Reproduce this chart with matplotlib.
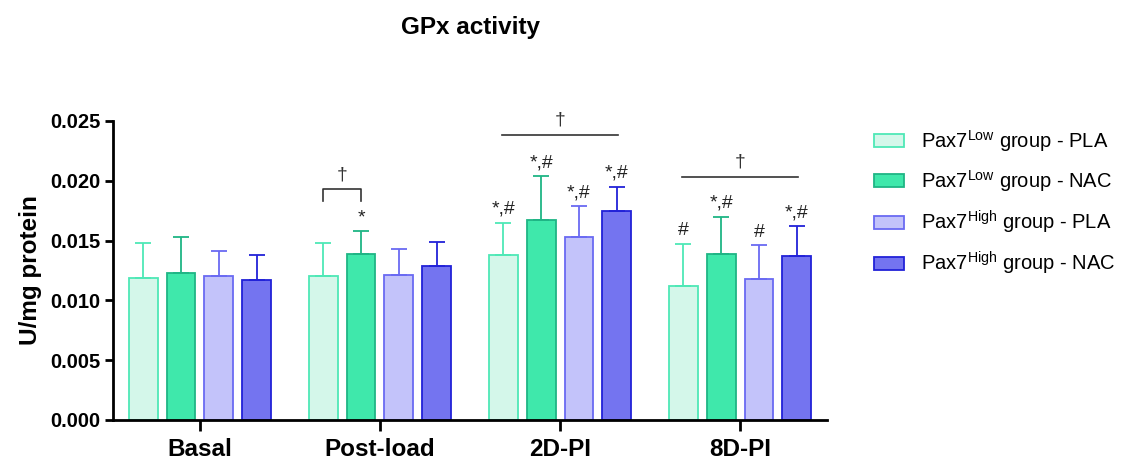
import matplotlib
matplotlib.use("Agg")
import matplotlib.pyplot as plt
from matplotlib.patches import Patch
import numpy as np

plt.rcParams['font.family'] = ['Liberation Sans', 'DejaVu Sans']

categories = ["Basal", "Post-load", "2D-PI", "8D-PI"]
series = ["Pax7$^{\\mathregular{Low}}$ group - PLA", "Pax7$^{\\mathregular{Low}}$ group - NAC",
          "Pax7$^{\\mathregular{High}}$ group - PLA", "Pax7$^{\\mathregular{High}}$ group - NAC"]
low_pla = [0.0119, 0.0120, 0.0138, 0.0112]
low_nac = [0.0123, 0.0139, 0.0167, 0.0139]
high_pla = [0.0120, 0.0121, 0.0153, 0.0118]
high_nac = [0.0117, 0.0129, 0.0175, 0.0137]
low_pla_sd = [0.0029, 0.0028, 0.0027, 0.0035]
low_nac_sd = [0.0030, 0.0019, 0.0037, 0.0031]
high_pla_sd = [0.0021, 0.0022, 0.0026, 0.0028]
high_nac_sd = [0.0021, 0.0020, 0.0020, 0.0025]
annotations = [["", "", "", ""],
               ["", "*", "", ""],
               ["*,#", "*,#", "*,#", "*,#"],
               ["#", "*,#", "#", "*,#"]]

values = [low_pla, low_nac, high_pla, high_nac]
sds = [low_pla_sd, low_nac_sd, high_pla_sd, high_nac_sd]
faces = ["#d4f7ea", "#3fe8ab", "#c3c3fa", "#7474f0"]
edges = ["#4ee8b6", "#1fb585", "#6a6af2", "#2222d8"]

fig = plt.figure(figsize=(11.33, 4.65), dpi=100)
ax = fig.add_axes([0.0997, 0.0968, 0.6303, 0.643])

x = np.arange(len(categories))
offs = [-0.315, -0.105, 0.105, 0.315]
w = 0.16
for i in range(4):
    xs = x + offs[i]
    ax.bar(xs, values[i], width=w, color=faces[i], edgecolor=edges[i], linewidth=1.3, zorder=2)
    ax.errorbar(xs, values[i], yerr=[np.zeros(4), sds[i]], fmt='none', ecolor=edges[i],
                elinewidth=1.3, capsize=6, capthick=1.3, zorder=3)
    for j in range(4):
        t = annotations[j][i]
        if t:
            ax.text(xs[j], values[i][j] + sds[i][j] + 0.0004, t, ha='center', va='bottom',
                    fontsize=14, color='#222222')

# significance marks
lc = '#333333'
x1, x2 = x[1] + offs[0], x[1] + offs[1]
ax.plot([x1, x1, x2, x2], [0.0183, 0.0193, 0.0193, 0.0183], color=lc, lw=1.2)
ax.text((x1 + x2) / 2, 0.0198, "†", ha='center', va='bottom', fontsize=14, color=lc)
ax.plot([x[2] - 0.32, x[2] + 0.32], [0.02383, 0.02383], color=lc, lw=1.2)
ax.text(x[2], 0.0244, "†", ha='center', va='bottom', fontsize=14, color=lc)
ax.plot([x[3] - 0.32, x[3] + 0.32], [0.02033, 0.02033], color=lc, lw=1.2)
ax.text(x[3], 0.0209, "†", ha='center', va='bottom', fontsize=14, color=lc)

ax.set_xlim(-0.483, 3.483)
ax.set_ylim(0, 0.025)
ax.set_yticks([0, 0.005, 0.010, 0.015, 0.020, 0.025])
ax.set_yticklabels(["0.000", "0.005", "0.010", "0.015", "0.020", "0.025"], fontsize=14.5, fontweight='bold')
ax.set_xticks(x)
ax.set_xticklabels(categories, fontsize=17.5, fontweight='bold')
ax.tick_params(axis='x', length=8, width=2, pad=5)
ax.tick_params(axis='y', length=6, width=2, pad=3)
for s in ['top', 'right']:
    ax.spines[s].set_visible(False)
for s in ['left', 'bottom']:
    ax.spines[s].set_linewidth(2)
ax.set_ylabel("U/mg protein", fontsize=17.5, fontweight='bold', labelpad=6)

fig.text(0.415, 0.94, "GPx activity", ha='center', va='center', fontsize=17.5, fontweight='bold')

handles = [Patch(facecolor=faces[i], edgecolor=edges[i], linewidth=1.3) for i in range(4)]
leg = fig.legend(handles, series, loc='upper left', bbox_to_anchor=(0.757, 0.76), frameon=False,
                 fontsize=14.5, handlelength=1.5, handleheight=0.6, labelspacing=0.72,
                 handletextpad=0.85, borderpad=0.3)

fig.savefig("out.png", dpi=100)
